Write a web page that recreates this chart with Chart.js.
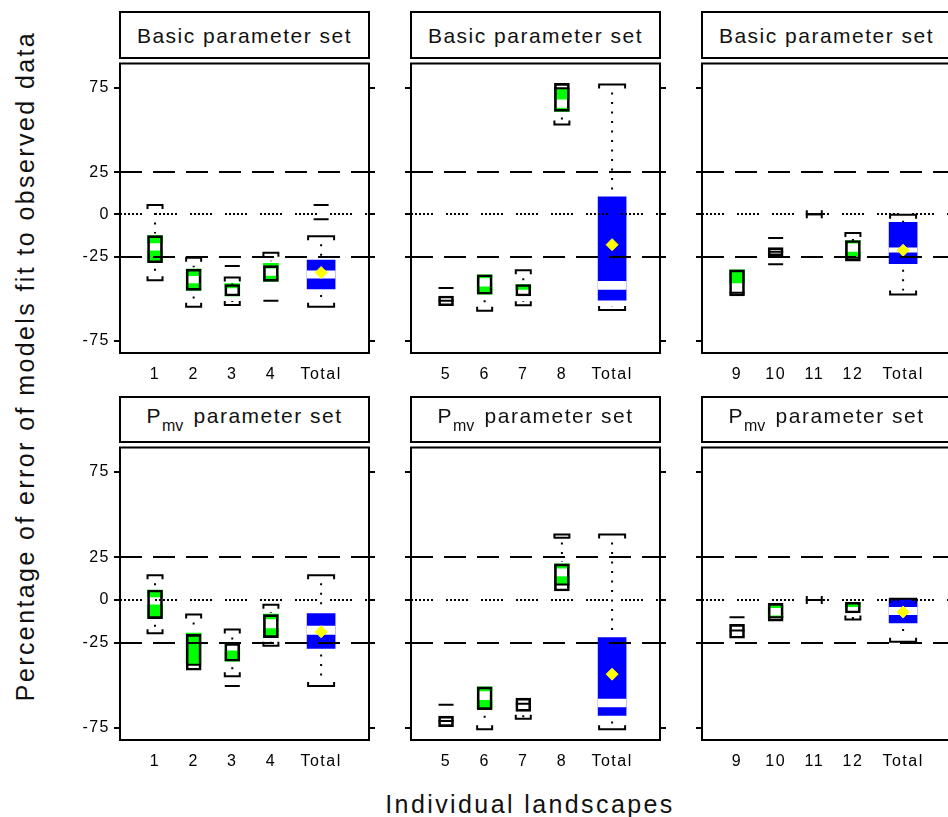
<!DOCTYPE html>
<html>
<head>
<meta charset="utf-8">
<script src="https://cdn.jsdelivr.net/npm/chart.js@4.4.1/dist/chart.umd.min.js"></script>
<style>
  html, body { margin: 0; padding: 0; background: #fff; overflow: hidden; }
  body { width: 948px; height: 817px; position: relative; font-family: "Liberation Sans", Arial, sans-serif; color: #000; }
  canvas { position: absolute; }
  .strip { position: absolute; box-sizing: border-box; border: 2px solid #000; display: flex; align-items: center; justify-content: center;
           font-size: 21px; letter-spacing: 1.5px; white-space: nowrap; overflow: hidden; line-height: 1; color: #111; }
  .strip sub { font-size: 16px; vertical-align: -8px; letter-spacing: 0; line-height: 1; margin-right: 3px; }
  .ytitle { position: absolute; left: 25px; top: 366px; transform: translate(-50%, -50%) rotate(-90deg);
            font-size: 25px; letter-spacing: 2.4px; white-space: nowrap; line-height: 1; color: #111; }
  .xtitle { position: absolute; left: 530px; top: 792px; transform: translateX(-50%);
            font-size: 25px; letter-spacing: 2.4px; white-space: nowrap; line-height: 25px; color: #111; }
</style>
</head>
<body>
<div class="ytitle">Percentage of error of models fit to observed data</div>
<div class="xtitle">Individual landscapes</div>
<script>
// categories per panel, x positions of the boxes and y ticks
const panelLabels = [['1', '2', '3', '4', 'Total'], ['5', '6', '7', '8', 'Total'], ['9', '10', '11', '12', 'Total']];
const xPos = [1, 2, 3, 4, 5.3];
const yTicks = [75, 25, 0, -25, -75];
const refValues = [25, 0, -25];
const stripTitles = ['Basic parameter set', 'P<sub>mv</sub> parameter set'];

// Basic parameter set (order: 1,2,3,4,Total, 5,6,7,8,Total, 9,10,11,12,Total)
const basicWhiskHi = [5.6, -25.7, -37.4, -22.8, -13,   null, null, -33.1, null, 77,   null, null, 0, -11, -0.2];
const basicWhiskLo = [-39.1, -54.8, -53.7, null, -54.8,   null, -57.2, -53.9, 53.3, -56.7,   null, null, 0, null, -47.5];
const basicBoxHi = [-12.6, -32.5, -41.6, -30.4, null,   -48.4, -35.8, -41.6, 77.6, null,   -32.9, -19.7, null, -15.5, null];
const basicBoxLo = [-28.7, -45.1, -48.4, -39.7, null,   -54.2, -47.4, -48.4, 61, null,   -48.4, -24.6, null, -27.7, null];
const basicFillHi = [-12.6, -32.5, -41.0, -29, -27.1,   null, -35.8, -41.6, 74.7, 10.3,   -32.9, null, null, -15.5, -4.8];
const basicFillLo = [-28.7, -45.1, -48.4, -39.7, -44.2,   null, -47.4, -44.5, 61, -50.9,   -40.7, null, null, -25, -29.3];
const basicGapHi = [-17.4, -36.8, -44, -32.3, -33.5,   null, -38.1, null, 67.8, -39.7,   null, null, null, -17.5, -19.9];
const basicGapLo = [-21.3, -40.7, -47.8, -36.2, -37.8,   null, -42.6, null, 63.4, -44.5,   null, null, null, -22, -22.5];
const basicMean = [null, null, null, null, -34.5,   null, null, null, null, -18,   null, null, null, null, -21.3];
const basicMarks = [[], [], [-30.6], [-51.3], [5.6, -2.9],   [-43.6, -51.3], [], [], [74.7], [],   [-46.5], [-14.1, -22.2, -29.6], [], [-25.7], []];

// Pmv parameter set
const pmvWhiskHi = [14.4, -8.6, -17.3, -2.9, 14.4,   null, null, null, 38.4, 38.4,   null, null, 0, null, 0.6];
const pmvWhiskLo = [-19.6, null, -44.8, -26.9, -50.5,   null, -75.9, -69.7, null, -75.9,   null, null, 0, -11.5, -24.6];
const pmvBoxHi = [5.8, -20.2, -25.6, -8.6, null,   -68.2, -51, -57.6, 21.1, null,   -14.4, -2, null, -1.4, null];
const pmvBoxLo = [-11, -41.3, -36, -22.1, null,   -74.4, -64.4, -65.4, 5.2, null,   -22.5, -12.5, null, -7.7, null];
const pmvFillHi = [5.8, -19.5, -25.6, -8.3, -8.1,   null, -51, null, 21.1, -22.1,   null, -3.5, null, -1.4, 0.6];
const pmvFillLo = [-11, -37.5, -36, -22.1, -28.5,   null, -64, null, 9.2, -67.8,   null, -10.5, null, -4, -13.5];
const pmvGapHi = [1.3, null, -26, -11.5, -15.4,   null, -53.8, null, 18.2, -58.2,   null, -5, null, null, -4.4];
const pmvGapLo = [-2.5, null, -29.5, -16.4, -20.2,   null, -58.6, null, 14, -62.8,   null, -9, null, null, -8.6];
const pmvMean = [null, null, null, null, -18.7,   null, null, null, null, -43.6,   null, null, null, null, -7.1];
const pmvMarks = [[], [-38], [-50.5], [], [],   [-61.5, -71.1], [], [-60.9], [36.5, 9], [],   [-10.2, -17.9], [-10.2], [], [], []];

const rowSets = [
  { whiskHi: basicWhiskHi, whiskLo: basicWhiskLo, boxHi: basicBoxHi, boxLo: basicBoxLo, fillHi: basicFillHi, fillLo: basicFillLo,
    gapHi: basicGapHi, gapLo: basicGapLo, mean: basicMean, marks: basicMarks },
  { whiskHi: pmvWhiskHi, whiskLo: pmvWhiskLo, boxHi: pmvBoxHi, boxLo: pmvBoxLo, fillHi: pmvFillHi, fillLo: pmvFillLo,
    gapHi: pmvGapHi, gapLo: pmvGapLo, mean: pmvMean, marks: pmvMarks }
];

// layout
const colLeft = [120, 411, 702];
const panelW = 249;
const rowTop = [58, 442];
const rowH = [295, 298];
const stripTop = [12, 397];
const axisW = 50, rightW = 14, xAxisH = 36, padTop = 4;

Chart.defaults.font.family = '"Liberation Sans", Arial, sans-serif';
Chart.defaults.color = '#000';

function bracket(ctx, cx, py, half, dir) {
  ctx.beginPath();
  ctx.moveTo(cx - half, py + dir * 4);
  ctx.lineTo(cx - half, py);
  ctx.lineTo(cx + half, py);
  ctx.lineTo(cx + half, py + dir * 4);
  ctx.stroke();
}

const boxParts = {
  id: 'boxParts',
  beforeDraw(chart) {
    chart.ctx.letterSpacing = '1.5px';
  },
  afterDatasetsDraw(chart) {
    const o = chart.options.plugins.boxParts;
    const s = rowSets[o.row];
    const { ctx, chartArea: a } = chart;
    const x = chart.scales.x, y = chart.scales.y;
    ctx.save();
    ctx.beginPath();
    ctx.rect(a.left, a.top, a.width, a.height);
    ctx.clip();
    ctx.strokeStyle = '#000';
    ctx.lineWidth = 2;

    // reference lines
    refValues.forEach(v => {
      ctx.setLineDash(v === 0 ? [2, 2, 2, 2, 2, 2, 2, 2, 2, 2, 2, 13] : [22, 11]);
      const py = Math.round(y.getPixelForValue(v));
      ctx.beginPath();
      ctx.moveTo(a.left, py);
      ctx.lineTo(a.right, py);
      ctx.stroke();
    });

    // whiskers and brackets
    for (let i = 0; i < 5; i++) {
      const k = o.panel * 5 + i;
      const cx = x.getPixelForValue(xPos[i]);
      const half = i === 4 ? 13 : 7.5;
      const tops = [s.boxHi[k], s.fillHi[k]].filter(v => v != null);
      const bots = [s.boxLo[k], s.fillLo[k]].filter(v => v != null);
      const top = tops.length ? Math.max(...tops) : null;
      const bot = bots.length ? Math.min(...bots) : null;
      ctx.setLineDash([2, 7.5]);
      if (s.whiskHi[k] != null && top != null && s.whiskHi[k] > top) {
        ctx.beginPath();
        ctx.moveTo(cx, y.getPixelForValue(s.whiskHi[k]) + 8);
        ctx.lineTo(cx, y.getPixelForValue(top) - 2);
        ctx.stroke();
      }
      if (s.whiskLo[k] != null && bot != null && s.whiskLo[k] < bot) {
        ctx.beginPath();
        ctx.moveTo(cx, y.getPixelForValue(bot) + 6);
        ctx.lineTo(cx, y.getPixelForValue(s.whiskLo[k]) - 4);
        ctx.stroke();
      }
      ctx.setLineDash([]);
      if (s.whiskHi[k] != null) bracket(ctx, cx, y.getPixelForValue(s.whiskHi[k]), half, 1);
      if (s.whiskLo[k] != null) bracket(ctx, cx, y.getPixelForValue(s.whiskLo[k]), half, -1);
    }
    ctx.restore();
  },
  afterDraw(chart) {
    const { ctx, chartArea: a } = chart;
    ctx.save();
    ctx.strokeStyle = '#000';
    ctx.lineWidth = 2;
    ctx.setLineDash([]);
    ctx.strokeRect(a.left, a.top, a.width, a.height);
    ctx.restore();
  }
};

function buildDatasets(r, p) {
  const s = rowSets[r];
  const outline = [], gapC = [], gapT = [], fillC = [], fillT = [], marks = [], means = [];
  for (let i = 0; i < 5; i++) {
    const k = p * 5 + i, xv = xPos[i], tot = i === 4;
    if (s.boxLo[k] != null) outline.push({ x: xv, y: [s.boxLo[k], s.boxHi[k]] });
    if (s.fillLo[k] != null) (tot ? fillT : fillC).push({ x: xv, y: [s.fillLo[k], s.fillHi[k]] });
    if (s.gapLo[k] != null) (tot ? gapT : gapC).push({ x: xv, y: [s.gapLo[k], s.gapHi[k]] });
    s.marks[k].forEach(v => marks.push({ x: xv, y: v }));
    if (s.mean[k] != null) means.push({ x: xv, y: s.mean[k] });
  }
  const bar = (data, color, thick, order, border) => ({
    type: 'bar', data, grouped: false, barThickness: thick, order,
    backgroundColor: color, borderColor: border || color, borderWidth: border ? 2 : 0, borderSkipped: false
  });
  return [
    { type: 'scatter', data: means, order: 0, pointStyle: 'rectRot', pointRadius: 6,
      pointBackgroundColor: '#ffff00', pointBorderColor: '#ffff00', pointBorderWidth: 1 },
    { type: 'scatter', data: marks, order: 0, pointStyle: 'line', pointRadius: 7.5,
      pointBorderColor: '#000', pointBorderWidth: 2 },
    bar(outline, 'rgba(0,0,0,0)', 15, 1, '#000'),
    bar(gapC, '#ffffff', 15, 2),
    bar(gapT, '#ffffff', 28, 2),
    bar(fillC, '#00ff00', 15, 3),
    bar(fillT, '#0000ff', 28, 3)
  ];
}

function makeConfig(r, p) {
  const tickGrid = { drawOnChartArea: false, drawTicks: true, tickLength: 6, color: '#000', lineWidth: 2 };
  return {
    type: 'bar',
    data: { datasets: buildDatasets(r, p) },
    options: {
      responsive: false,
      animation: false,
      events: [],
      layout: { padding: { top: padTop, left: 0, right: 0, bottom: 0 } },
      plugins: { legend: { display: false }, tooltip: { enabled: false }, boxParts: { row: r, panel: p } },
      scales: {
        x: {
          type: 'linear', min: 0.093, max: 6.54, offset: false,
          grid: { display: false, offset: false }, border: { display: false },
          ticks: { font: { size: 16 }, color: '#000', padding: 4, autoSkip: false, maxRotation: 0, minRotation: 0,
                   callback: (v, i) => panelLabels[p][i] },
          afterBuildTicks: s => { s.ticks = xPos.map(v => ({ value: v })); },
          afterFit: s => { s.height = xAxisH; s.paddingLeft = 0; s.paddingRight = 0; }
        },
        y: {
          type: 'linear', position: 'left', min: -82.2, max: 89.4,
          grid: tickGrid, border: { display: false },
          ticks: { font: { size: 16 }, color: '#000', padding: 4, autoSkip: false,
                   callback: v => (p === 0 ? String(v) : '') },
          afterBuildTicks: s => { s.ticks = yTicks.map(v => ({ value: v })); },
          afterFit: s => { s.width = axisW; s.paddingTop = 0; s.paddingBottom = 0; }
        },
        y2: {
          type: 'linear', position: 'right', min: -82.2, max: 89.4,
          grid: tickGrid, border: { display: false },
          ticks: { display: true, autoSkip: false, callback: () => '' },
          afterBuildTicks: s => { s.ticks = yTicks.map(v => ({ value: v })); },
          afterFit: s => { s.width = rightW; s.paddingTop = 0; s.paddingBottom = 0; }
        }
      }
    },
    plugins: [boxParts]
  };
}

for (let r = 0; r < 2; r++) {
  for (let p = 0; p < 3; p++) {
    const strip = document.createElement('div');
    strip.className = 'strip';
    strip.style.left = (colLeft[p] - 1) + 'px';
    strip.style.top = (stripTop[r] - 1) + 'px';
    strip.style.width = (panelW + 2) + 'px';
    strip.style.height = (rowTop[r] - stripTop[r] + 2) + 'px';
    strip.innerHTML = '<span>' + stripTitles[r] + '</span>';
    document.body.appendChild(strip);

    const cv = document.createElement('canvas');
    cv.width = axisW + panelW + rightW;
    cv.height = padTop + rowH[r] + xAxisH;
    cv.style.left = (colLeft[p] - axisW) + 'px';
    cv.style.top = (rowTop[r] - padTop) + 'px';
    document.body.appendChild(cv);
    new Chart(cv, makeConfig(r, p));
  }
}
</script>
</body>
</html>
